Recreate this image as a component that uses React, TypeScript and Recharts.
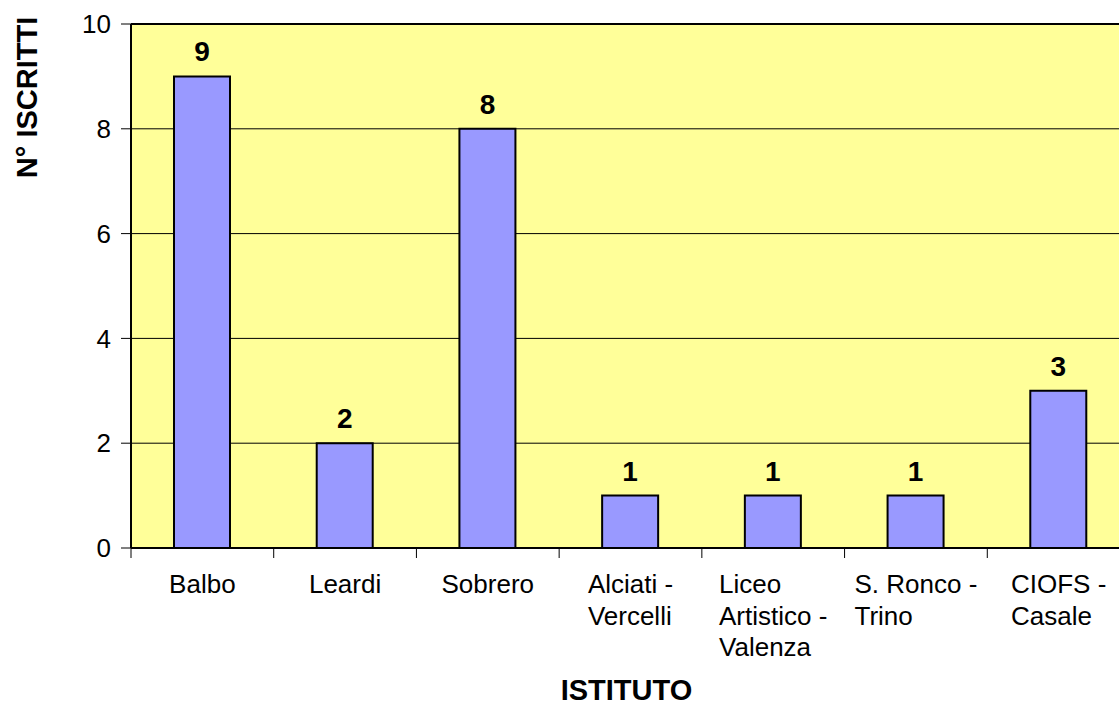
import React from "react";
import {
  BarChart,
  Bar,
  XAxis,
  YAxis,
  CartesianGrid,
  LabelList,
  ReferenceLine,
} from "recharts";

const categories = [
  "Balbo",
  "Leardi",
  "Sobrero",
  "Alciati - Vercelli",
  "Liceo Artistico - Valenza",
  "S. Ronco - Trino",
  "CIOFS - Casale",
];
const tickLabelLines: string[][] = [
  ["Balbo"],
  ["Leardi"],
  ["Sobrero"],
  ["Alciati -", "Vercelli"],
  ["Liceo", "Artistico -", "Valenza"],
  ["S. Ronco -", "Trino"],
  ["CIOFS -", "Casale"],
];
const iscritti = [9, 2, 8, 1, 1, 1, 3];
const yTicks = [0, 2, 4, 6, 8, 10];
const yTitle = "N° ISCRITTI";
const xTitle = "ISTITUTO";

const data = categories.map((name, i) => ({ name, value: iscritti[i], lines: tickLabelLines[i] }));

const FONT = '"Liberation Sans", Arial, sans-serif';
const CHART_W = 1140;
const CHART_H = 706;
const MARGIN = { top: 24, right: 10, left: 0, bottom: 0 };
const Y_AXIS_W = 131;
const X_AXIS_H = 158;
const PLOT_W = CHART_W - MARGIN.left - MARGIN.right - Y_AXIS_W;
const STEP = PLOT_W / categories.length;
const TICK_FS = 26;

let ctx: CanvasRenderingContext2D | null = null;
function measure(t: string): number {
  if (!ctx) {
    const c = document.createElement("canvas");
    ctx = c.getContext("2d");
  }
  if (!ctx) return t.length * TICK_FS * 0.5;
  ctx.font = `${TICK_FS}px "Liberation Sans", Arial, sans-serif`;
  return ctx.measureText(t).width;
}

const XTick = (props: any) => {
  const { x, y, payload, index } = props;
  const lines: string[] = tickLabelLines[index] ?? [String(payload.value)];
  const w = Math.max(...lines.map(measure));
  const left = x - w / 2;
  const bx = x - STEP / 2;
  return (
    <g>
      <line x1={bx} y1={y} x2={bx} y2={y + 10} stroke="#000" strokeWidth={1} />
      <text x={left} y={y + 45} fontSize={TICK_FS} fill="#000" fontFamily={FONT} textAnchor="start">
        {lines.map((l, i) => (
          <tspan key={i} x={left} dy={i === 0 ? 0 : 31.7}>
            {l}
          </tspan>
        ))}
      </text>
    </g>
  );
};

const YTitle = () => (
  <text
    x={37}
    y={97.5}
    transform="rotate(-90, 37, 97.5)"
    textAnchor="middle"
    fontSize={29}
    fontWeight="bold"
    fill="#000"
    fontFamily={FONT}
  >
    {yTitle}
  </text>
);

const XTitle = () => (
  <text
    x={Y_AXIS_W + PLOT_W / 2 - 4}
    y={700}
    textAnchor="middle"
    fontSize={29}
    fontWeight="bold"
    fill="#000"
    fontFamily={FONT}
  >
    {xTitle}
  </text>
);

export default function App() {
  return (
    <div
      style={{
        position: "absolute",
        left: 0,
        top: 0,
        width: 1119,
        height: 706,
        overflow: "hidden",
        background: "#fff",
      }}
    >
      <BarChart
        width={CHART_W}
        height={CHART_H}
        data={data}
        margin={MARGIN}
        style={{ fontFamily: FONT }}
      >
        <CartesianGrid vertical={false} stroke="#000" strokeWidth={1} fill="#FFFF99" fillOpacity={1} />
        <XAxis
          dataKey="name"
          height={X_AXIS_H}
          interval={0}
          tickLine={false}
          tickSize={0}
          tickMargin={0}
          axisLine={{ stroke: "#000", strokeWidth: 2 }}
          tick={<XTick />}
          label={<XTitle />}
        />
        <YAxis
          width={Y_AXIS_W}
          domain={[0, 10]}
          ticks={yTicks}
          interval={0}
          tickSize={10}
          tickMargin={10}
          tickLine={{ stroke: "#000", strokeWidth: 1 }}
          axisLine={{ stroke: "#000", strokeWidth: 2 }}
          tick={{ fontSize: TICK_FS, fill: "#000", fontFamily: FONT }}
          label={<YTitle />}
        />
        <ReferenceLine y={10} stroke="#000" strokeWidth={2} />
        <Bar
          dataKey="value"
          fill="#9999FF"
          stroke="#000"
          strokeWidth={2}
          barSize={56}
          isAnimationActive={false}
        >
          <LabelList
            dataKey="value"
            position="top"
            offset={15}
            style={{ fontSize: 28, fontWeight: "bold", fill: "#000", fontFamily: FONT }}
          />
        </Bar>
      </BarChart>
    </div>
  );
}
